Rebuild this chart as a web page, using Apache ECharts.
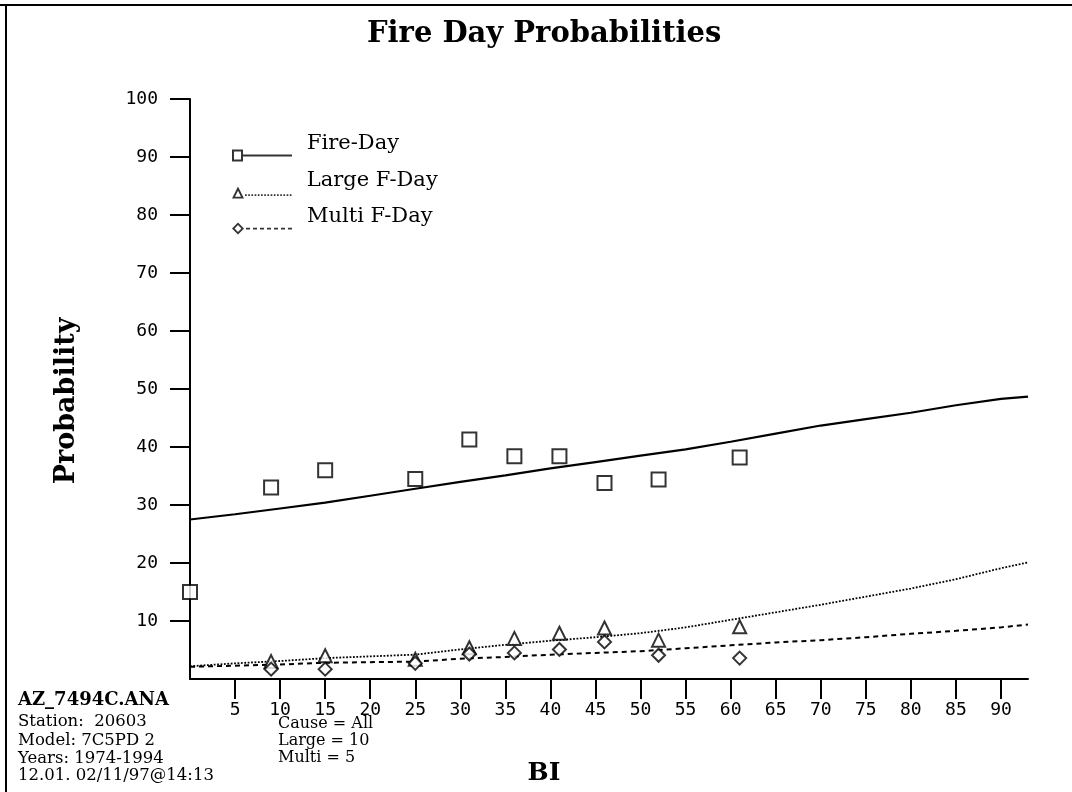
<!DOCTYPE html>
<html>
<head>
<meta charset="utf-8">
<script src="https://cdn.jsdelivr.net/npm/echarts@6/dist/echarts.min.js"></script>
<style>
html,body{margin:0;padding:0;background:#fff;}
#chart{width:1072px;height:792px;}
</style>
</head>
<body>
<div id="chart"></div>
<script>
// ---- data ----
var obsBI = [0, 9, 15, 25, 31, 36, 41, 46, 52, 61];
var fireObs = [15.0, 33.0, 36.0, 34.5, 41.3, 38.4, 38.4, 33.8, 34.4, 38.2];
var obsBI2 = [9, 15, 25, 31, 36, 41, 46, 52, 61];
var largeObs = [3.0, 4.0, 3.4, 5.4, 7.0, 7.9, 8.8, 6.7, 9.0];
var multiObs = [1.7, 1.7, 2.7, 4.3, 4.5, 5.1, 6.4, 4.1, 3.6];

var fitBI = [0, 5, 10, 15, 20, 25, 30, 35, 40, 45, 50, 55, 60, 65, 70, 75, 80, 85, 90, 93];
var fireFit = [27.5, 28.4, 29.4, 30.4, 31.6, 32.8, 34.0, 35.1, 36.3, 37.4, 38.5, 39.6, 40.9, 42.3, 43.7, 44.8, 45.9, 47.2, 48.3, 48.7];
var largeFit = [2.2, 2.7, 3.1, 3.6, 3.9, 4.2, 5.1, 5.9, 6.6, 7.2, 7.9, 8.9, 10.2, 11.5, 12.8, 14.2, 15.6, 17.2, 19.1, 20.1];
var multiFit = [2.1, 2.3, 2.5, 2.8, 2.9, 3.0, 3.5, 3.8, 4.2, 4.5, 4.8, 5.3, 5.8, 6.3, 6.7, 7.2, 7.8, 8.3, 8.9, 9.4];

var xTicks = [5, 10, 15, 20, 25, 30, 35, 40, 45, 50, 55, 60, 65, 70, 75, 80, 85, 90];
var yTicks = [10, 20, 30, 40, 50, 60, 70, 80, 90, 100];

var seriesNames = ['Fire-Day', 'Large F-Day', 'Multi F-Day'];
var infoLines = ['Station:  20603', 'Model: 7C5PD 2', 'Years: 1974-1994', '12.01. 02/11/97@14:13'];
var fileName = 'AZ_7494C.ANA';
var paramLines = ['Cause = All', 'Large = 10', 'Multi = 5'];

function pairs(xs, ys) { return xs.map(function (x, i) { return [x, ys[i]]; }); }

// ---- legend icons (symbol at left + line pattern) ----
function segs(y0, h, start, end, len, gap) {
  var p = '';
  for (var x = start; x + len <= end + 0.01; x += len + gap) {
    p += 'M' + x + ',' + y0 + 'L' + (x + len) + ',' + y0 + 'L' + (x + len) + ',' + (y0 + h) + 'L' + x + ',' + (y0 + h) + 'Z';
  }
  return p;
}
var iconFire = 'path://M0,0L11,0L11,12L0,12ZM2,2L2,10L9,10L9,2ZM11,5L60,5L60,7L11,7Z';
var iconLarge = 'path://M0,12L6,0L12,12ZM3,10.3L9,10.3L6,4.2Z' + segs(7.8, 1.7, 13, 60, 1.7, 1.5);
var iconMulti = 'path://M0,6L6,0L12,6L6,12ZM2.6,6L6,9.4L9.4,6L6,2.6Z' + segs(5.2, 1.8, 14, 60, 4, 3);

function legendFor(name, icon, top) {
  return {
    data: [{ name: name, icon: icon }],
    left: 232, top: top, padding: 0,
    itemWidth: 60, itemHeight: 12,
    selectedMode: false,
    itemStyle: { color: '#000', borderWidth: 0 },
    formatter: '{t|{name}}\n{s| }',
    textStyle: {
      color: '#000',
      rich: {
        t: { fontFamily: 'DejaVu Serif', fontSize: 21, lineHeight: 22, color: '#000', padding: [0, 0, 0, 10] },
        s: { fontSize: 10, lineHeight: 24 }
      }
    }
  };
}

var monoFont = 'DejaVu Sans Mono';
var serif = 'DejaVu Serif';

var graphics = [
  { type: 'line', shape: { x1: 0, y1: 5, x2: 1072, y2: 5 }, style: { stroke: '#000', lineWidth: 2 } },
  { type: 'line', shape: { x1: 6, y1: 4, x2: 6, y2: 792 }, style: { stroke: '#000', lineWidth: 2 } },
  { type: 'text', x: 18, y: 700, style: { text: fileName, font: 'bold 18px "DejaVu Serif"', fill: '#000', verticalAlign: 'middle' } }
];
var infoY = [722, 741, 759, 776];
infoLines.forEach(function (t, i) {
  graphics.push({ type: 'text', x: 18, y: infoY[i], style: { text: t, font: '16.5px "DejaVu Serif"', fill: '#000', verticalAlign: 'middle' } });
});
var paramY = [724, 741, 758];
paramLines.forEach(function (t, i) {
  graphics.push({ type: 'text', x: 278, y: paramY[i], style: { text: t, font: '16px "DejaVu Serif"', fill: '#000', verticalAlign: 'middle' } });
});

var option = {
  backgroundColor: '#fff',
  animation: false,
  title: {
    text: 'Fire Day Probabilities', left: 367, top: 20, padding: 0,
    textStyle: { fontFamily: serif, fontWeight: 'bold', fontSize: 29, color: '#000' }
  },
  legend: [
    legendFor(seriesNames[0], iconFire, 133),
    legendFor(seriesNames[1], iconLarge, 170),
    legendFor(seriesNames[2], iconMulti, 206)
  ],
  grid: { left: 190, top: 99, right: 44, bottom: 113, containLabel: false },
  xAxis: {
    type: 'value', min: 0, max: 93, interval: 5,
    name: 'BI', nameLocation: 'middle', nameGap: 82,
    nameTextStyle: { fontFamily: serif, fontWeight: 'bold', fontSize: 25, color: '#000', padding: [0, 130, 0, 0] },
    axisLine: { lineStyle: { color: '#000', width: 2 } },
    axisTick: { show: true, length: 20, customValues: xTicks, lineStyle: { color: '#000', width: 2 } },
    axisLabel: { customValues: xTicks, margin: 22, fontFamily: monoFont, fontSize: 18, color: '#000' },
    splitLine: { show: false }
  },
  yAxis: {
    type: 'value', min: 0, max: 100, interval: 10,
    name: 'Probability', nameLocation: 'middle', nameRotate: 90, nameGap: 110,
    nameTextStyle: { fontFamily: serif, fontWeight: 'bold', fontSize: 27, color: '#000', padding: [0, 24, 0, 0] },
    axisLine: { show: true, lineStyle: { color: '#000', width: 2 } },
    axisTick: { show: true, length: 20, customValues: yTicks, lineStyle: { color: '#000', width: 2 } },
    axisLabel: { customValues: yTicks, margin: 32, fontFamily: monoFont, fontSize: 18, color: '#000' },
    splitLine: { show: false }
  },
  graphic: graphics,
  series: [
    { name: seriesNames[0], type: 'scatter', data: pairs(obsBI, fireObs), symbol: 'emptyRect', symbolSize: 14, itemStyle: { color: '#000', borderColor: '#000', borderWidth: 2.2 }, z: 3 },
    { name: seriesNames[1], type: 'scatter', data: pairs(obsBI2, largeObs), symbol: 'emptyTriangle', symbolSize: 13, itemStyle: { color: '#000', borderColor: '#000', borderWidth: 2.2 }, z: 3 },
    { name: seriesNames[2], type: 'scatter', data: pairs(obsBI2, multiObs), symbol: 'emptyDiamond', symbolSize: 13, itemStyle: { color: '#000', borderColor: '#000', borderWidth: 2.2 }, z: 3 },
    { name: seriesNames[0], type: 'line', data: pairs(fitBI, fireFit), symbol: 'none', lineStyle: { color: '#000', width: 2.2, type: 'solid' }, itemStyle: { color: '#000' } },
    { name: seriesNames[1], type: 'line', data: pairs(fitBI, largeFit), symbol: 'none', lineStyle: { color: '#000', width: 1.8, type: [1.8, 1.6] }, itemStyle: { color: '#000' } },
    { name: seriesNames[2], type: 'line', data: pairs(fitBI, multiFit), symbol: 'none', lineStyle: { color: '#000', width: 2, type: [5, 4] }, itemStyle: { color: '#000' } }
  ]
};

var chart = echarts.init(document.getElementById('chart'), null, { renderer: 'canvas' });
chart.setOption(option);
</script>
</body>
</html>
